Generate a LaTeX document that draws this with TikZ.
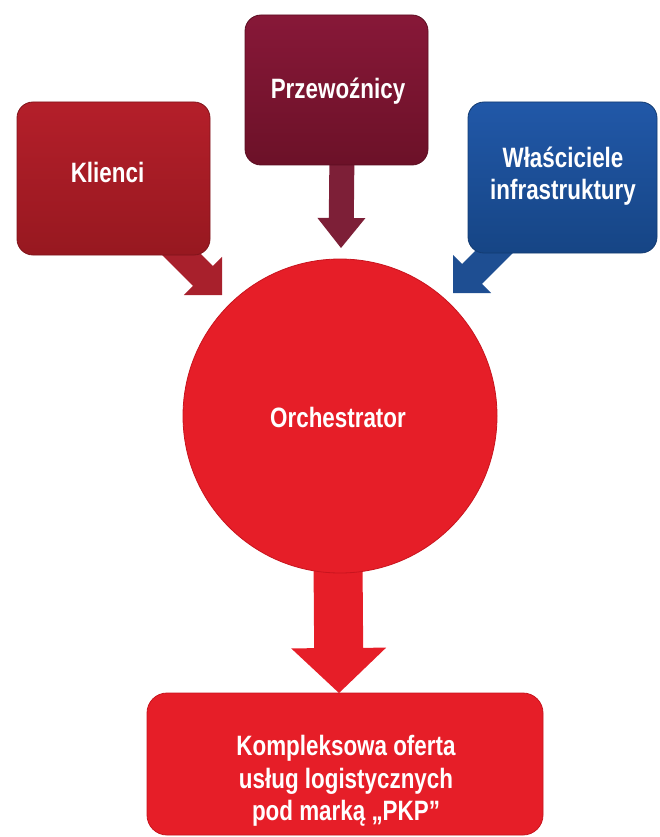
\documentclass[tikz,border=0pt]{standalone}
\usepackage{fontspec}
\setmainfont{Liberation Sans}[FakeStretch=0.8]
\usetikzlibrary{calc}
\definecolor{kliTop}{HTML}{B41F2A}
\definecolor{kliBot}{HTML}{971820}
\definecolor{kliArr}{HTML}{A8202C}
\definecolor{prTop}{HTML}{871838}
\definecolor{prBot}{HTML}{6C1128}
\definecolor{prArr}{HTML}{7D1F37}
\definecolor{wlTop}{HTML}{2158A8}
\definecolor{wlBot}{HTML}{164585}
\definecolor{wlArr}{HTML}{1E4E92}
\definecolor{orRed}{HTML}{E61E28}
\definecolor{orEdge}{HTML}{C8141E}
\newcommand\blockarr[6]{%
  \coordinate (hb) at ($(#2)!#5!(#1)$);
  \fill[#6] ($(#1)!#3!-90:(#2)$) -- ($(hb)!#3!90:(#1)$) -- ($(hb)!#4!90:(#1)$)
    -- (#2) -- ($(hb)!#4!-90:(#1)$) -- ($(hb)!#3!-90:(#1)$) -- ($(#1)!#3!90:(#2)$) -- cycle;}
\tikzset{
  box/.style={rounded corners=16pt, line width=0.8pt, inner sep=0pt},
  lbl/.style={text=white, font=\fontsize{28}{32.5}\selectfont\bfseries, align=center, inner sep=0pt},
}
\begin{document}
\begin{tikzpicture}[x=1pt,y=-1pt]
\useasboundingbox (0,0) rectangle (659,837);
% anchor points for the block arrows
\coordinate (k1) at (168,241);
\coordinate (k2) at (222,295);
\coordinate (p1) at (342,150);
\coordinate (p2) at (341,248);
\coordinate (w1) at (506,240);
\coordinate (w2) at (453,293);
\coordinate (o1) at (338,560);
\coordinate (o2) at (339,693);
% arrows
\blockarr{k1}{k2}{14pt}{27pt}{27pt}{kliArr}
\blockarr{p1}{p2}{12.5pt}{24pt}{30pt}{prArr}
\blockarr{w1}{w2}{14pt}{27pt}{27pt}{wlArr}
\blockarr{o1}{o2}{24.5pt}{47.5pt}{45pt}{orRed}
% boxes
\node[box, draw=kliBot!85!black, top color=kliTop, bottom color=kliBot,
  minimum width=193pt, minimum height=153pt] (klienci) at (113.5,178.5) {};
\node[box, draw=prBot!85!black, top color=prTop, bottom color=prBot,
  minimum width=183pt, minimum height=150pt] (przew) at (336.5,90) {};
\node[box, draw=wlBot!85!black, top color=wlTop, bottom color=wlBot,
  minimum width=189pt, minimum height=151pt] (wlasc) at (562.5,177.5) {};
\node[circle, fill=orRed, draw=orEdge, line width=0.8pt, minimum size=314pt, inner sep=0pt] (orch) at (340,416) {};
\node[box, rounded corners=20pt, fill=orRed, draw=orEdge,
  minimum width=396pt, minimum height=142pt] (oferta) at (345,764) {};
% labels
\node[lbl] (tk) at (107.5,172) {Klienci};
\node[lbl] (tp) at (338,91) {Przewoźnicy};
\node[lbl] (tw) at (563,176) {Właściciele\\infrastruktury};
\node[lbl] (to) at (338,417) {Orchestrator};
\node[lbl] (tf) at (346,781) {Kompleksowa oferta\\ usług logistycznych\\pod marką „PKP”};
\end{tikzpicture}
\end{document}
